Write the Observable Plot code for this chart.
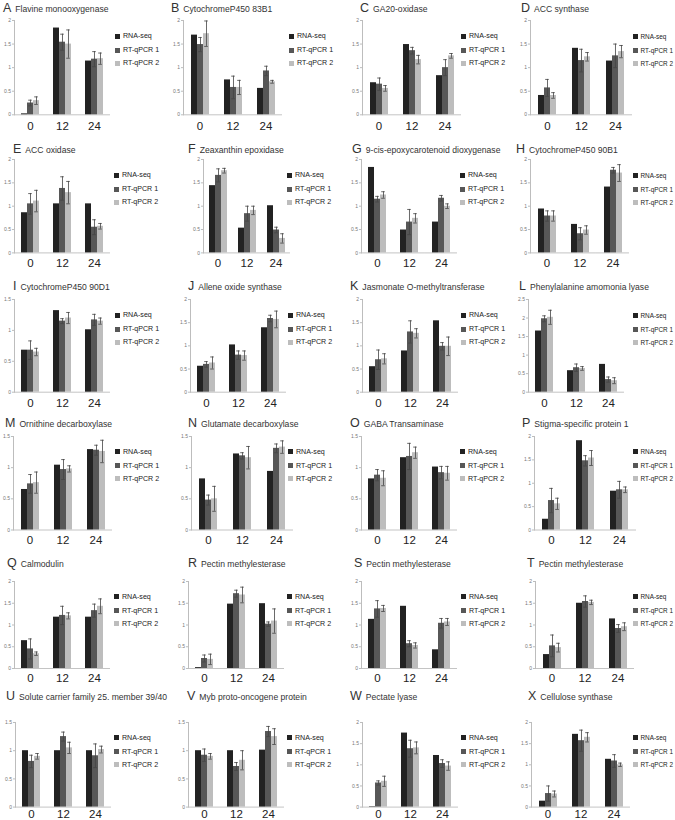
<!DOCTYPE html>
<html><head><meta charset="utf-8">
<script src="https://cdn.jsdelivr.net/npm/d3@7"></script>
<script src="https://cdn.jsdelivr.net/npm/@observablehq/plot@0.6"></script>
<style>
body{margin:0;background:#fff;}
#fig{position:relative;width:675px;height:820px;overflow:hidden;font-family:"Liberation Sans",Arial,sans-serif;background:#fff;}
.ttl{position:absolute;white-space:nowrap;color:#333;height:16px;line-height:16px;}
.ttl .lt{font-size:12.5px;margin-right:4px;}
.ttl .nm{font-size:8.6px;}
.leg{position:absolute;font-size:7.1px;color:#222;white-space:nowrap;display:flex;align-items:center;height:8px;}
.leg i{display:inline-block;width:5px;height:5px;margin-right:3px;}
.leg.narrow{font-size:6.4px;}
.leg.narrow i{margin-right:2.5px;}
</style></head>
<body><div id="fig"></div>
<script>
// ---- data ----
const panelLetters = ["A","B","C","D","E","F","G","H","I","J","K","L","M","N","O","P","Q","R","S","T","U","V","W","X"];
const panelTitles = [
  "Flavine monooxygenase","CytochromeP450 83B1","GA20-oxidase","ACC synthase",
  "ACC oxidase","Zeaxanthin epoxidase","9-cis-epoxycarotenoid dioxygenase","CytochromeP450 90B1",
  "CytochromeP450 90D1","Allene oxide synthase","Jasmonate O-methyltransferase","Phenylalanine amomonia lyase",
  "Ornithine decarboxylase","Glutamate decarboxylase","GABA Transaminase","Stigma-specific protein 1",
  "Calmodulin","Pectin methylesterase","Pectin methylesterase","Pectin methylesterase",
  "Solute carrier family 25. member 39/40","Myb proto-oncogene protein","Pectate lyase","Cellulose synthase"
];
const times = ["0","12","24"];
const seriesNames = ["RNA-seq","RT-qPCR 1","RT-qPCR 2"];
const yMax = [2,2,2,2, 2,2,2,2, 1.5,2,2,2.5, 1.5,1.5,1.5,2, 2,2,2,2, 1.5,1.5,2,2];

const rnaSeq = [
  [0.02,1.84,1.14],[1.69,0.74,0.56],[0.68,1.49,0.83],[0.41,1.41,1.14],
  [0.86,1.05,1.05],[1.44,0.53,1.01],[1.83,0.49,0.66],[0.94,0.61,1.41],
  [0.68,1.32,1.01],[0.56,1.02,1.39],[0.55,0.89,1.54],[1.65,0.58,0.75],
  [0.65,1.04,1.29],[0.82,1.22,0.94],[0.82,1.16,1.01],[0.23,1.91,0.83],
  [0.64,1.18,1.18],[0.02,1.48,1.49],[1.13,1.43,0.43],[0.32,1.50,1.14],
  [1.00,1.00,1.00],[1.00,1.00,1.01],[0.01,1.75,1.22],[0.14,1.72,1.13]
];
const qpcr1 = [
  [0.25,1.54,1.18],[1.49,0.58,0.93],[0.65,1.36,1.00],[0.57,1.15,1.25],
  [1.05,1.38,0.55],[1.66,0.84,0.49],[1.15,0.66,1.17],[0.79,0.41,1.77],
  [0.68,1.15,1.17],[0.60,0.80,1.59],[0.70,1.30,0.99],[1.98,0.66,0.34],
  [0.74,0.97,1.28],[0.48,1.19,1.31],[0.88,1.18,0.92],[0.63,1.48,0.86],
  [0.45,1.22,1.33],[0.23,1.72,1.02],[1.37,0.57,1.04],[0.52,1.54,0.92],
  [0.81,1.25,0.91],[0.92,0.72,1.34],[0.57,1.38,1.03],[0.32,1.57,1.09]
];
const qpcr1Err = [
  [0.06,0.17,0.16],[0.15,0.24,0.10],[0.13,0.07,0.17],[0.18,0.24,0.25],
  [0.22,0.25,0.16],[0.14,0.16,0.06],[0.06,0.27,0.06],[0.11,0.13,0.06],
  [0.15,0.04,0.09],[0.06,0.09,0.07],[0.21,0.24,0.08],[0.08,0.10,0.07],
  [0.15,0.16,0.08],[0.08,0.05,0.07],[0.09,0.21,0.10],[0.26,0.11,0.18],
  [0.23,0.21,0.15],[0.08,0.08,0.05],[0.19,0.07,0.11],[0.25,0.13,0.09],
  [0.11,0.08,0.21],[0.11,0.07,0.09],[0.05,0.20,0.09],[0.18,0.25,0.15]
];
const qpcr2 = [
  [0.30,1.50,1.19],[1.72,0.58,0.70],[0.56,1.17,1.25],[0.41,1.23,1.34],
  [1.11,1.29,0.57],[1.76,0.91,0.31],[1.24,0.74,1.00],[0.79,0.49,1.71],
  [0.65,1.20,1.15],[0.63,0.79,1.57],[0.72,1.27,0.99],[2.02,0.64,0.31],
  [0.76,0.98,1.26],[0.50,1.16,1.33],[0.83,1.24,0.91],[0.56,1.54,0.86],
  [0.34,1.21,1.43],[0.21,1.69,1.09],[1.38,0.53,1.07],[0.48,1.52,0.96],
  [0.90,1.05,1.02],[0.90,0.83,1.25],[0.61,1.40,0.97],[0.31,1.65,1.00]
];
const qpcr2Err = [
  [0.08,0.30,0.12],[0.27,0.15,0.03],[0.06,0.09,0.05],[0.06,0.09,0.13],
  [0.23,0.24,0.06],[0.05,0.09,0.10],[0.07,0.10,0.05],[0.11,0.09,0.18],
  [0.06,0.09,0.05],[0.13,0.10,0.18],[0.11,0.10,0.20],[0.19,0.05,0.08],
  [0.17,0.05,0.18],[0.20,0.18,0.10],[0.12,0.09,0.11],[0.12,0.16,0.06],
  [0.04,0.07,0.17],[0.12,0.18,0.28],[0.07,0.06,0.08],[0.10,0.05,0.09],
  [0.05,0.10,0.06],[0.05,0.17,0.14],[0.12,0.14,0.10],[0.07,0.11,0.04]
];

// ---- layout (styling only) ----
const seriesColors = ["#222222","#575757","#bdbdbd"];
const titleX = [3,171,360,521, 13,188,352,516, 13,188,350,519, 5,188,350,522, 7,188,354,527, 6,187,350,528];
const axisX  = [13,183,362,529, 14,202,360,529, 13,189,361,527, 13,190,360,534, 13,187,360,534, 14,187,361,530];
const plotW  = [98,99,99,104, 96,88,98,100, 98,98,98,98, 99,104,98,102, 98,98,98,101, 98,98,98,101];
const legendX= [115,289,461,633, 114,287,460,633, 115,288,461,633, 115,288,460,633, 114,287,461,633, 114,287,461,633];
const rowTitleY = [7,148,285,422,562,695];
const rowTop    = [20,159.3,299,435.5,580.7,721.7];
const rowBottom = [114.3,252.7,391.7,529,667.7,806.3];
const rowLabelPad = [7,6,6.3,5.8,5.4,3];
const barW = 6.7;

const fig = document.getElementById("fig");

panelLetters.forEach((letter, i) => {
  const r = Math.floor(i / 4);
  const col = i % 4;
  const top = rowTop[r], bottom = rowBottom[r];
  const W = plotW[i];
  const b = i === 5 ? 7 : barW;
  const step = W / 3;
  const pad = Math.max(0, (step / b - 3) / 2);

  const rows = [];
  times.forEach((t, j) => {
    rows.push({time: t, series: seriesNames[0], value: rnaSeq[i][j], err: null});
    rows.push({time: t, series: seriesNames[1], value: qpcr1[i][j], err: qpcr1Err[i][j]});
    rows.push({time: t, series: seriesNames[2], value: qpcr2[i][j], err: qpcr2Err[i][j]});
  });
  const errRows = rows.filter(d => d.err != null);
  const ticks = d3.range(0, yMax[i] + 1e-9, 0.5);

  const mL = 14, mR = 2, mT = 6, mB = 22;
  const svg = Plot.plot({
    width: mL + W + mR,
    height: mT + (bottom - top) + mB,
    marginLeft: mL, marginRight: mR, marginTop: mT, marginBottom: mB,
    style: {fontFamily: "'Liberation Sans', Arial, sans-serif", background: "none", overflow: "visible"},
    fx: {domain: times, padding: 0, label: null},
    x: {domain: seriesNames, paddingInner: 0, paddingOuter: pad, axis: null},
    y: {domain: [0, yMax[i]], label: null},
    color: {domain: seriesNames, range: seriesColors},
    marks: [
      Plot.ruleY([0], {stroke: "#c4c4c4"}),
      Plot.frame({anchor: "left", facetAnchor: "left", stroke: "#bdbdbd"}),
      Plot.axisY({ticks, tickSize: 2, tickPadding: 1.5, fontSize: 5, stroke: "#bdbdbd", fill: "#777", label: null, tickFormat: d => String(d)}),
      Plot.axisFx({anchor: "bottom", tickSize: 0, tickPadding: rowLabelPad[r], fontSize: 11.5, fill: "#222", label: null}),
      Plot.barY(rows, {fx: "time", x: "series", y: "value", fill: "series"}),
      Plot.ruleX(errRows, {fx: "time", x: "series", y1: d => d.value - d.err, y2: d => d.value + d.err, stroke: "#444", strokeWidth: 0.8}),
      Plot.tickY(errRows, {fx: "time", x: "series", y: d => d.value + d.err, stroke: "#444", strokeWidth: 0.8, insetLeft: 1.2, insetRight: 1.2}),
      Plot.tickY(errRows, {fx: "time", x: "series", y: d => d.value - d.err, stroke: "#444", strokeWidth: 0.8, insetLeft: 1.2, insetRight: 1.2})
    ]
  });
  svg.style.position = "absolute";
  svg.style.left = (axisX[i] - mL) + "px";
  svg.style.top = (top - mT) + "px";
  svg.style.maxWidth = "none";
  fig.appendChild(svg);

  // title
  const t = document.createElement("div");
  t.className = "ttl";
  t.style.left = titleX[i] + "px";
  t.style.top = (rowTitleY[r] - 8) + "px";
  const lt = document.createElement("span"); lt.className = "lt"; lt.textContent = letter;
  const nm = document.createElement("span"); nm.className = "nm"; nm.textContent = panelTitles[i];
  t.appendChild(lt); t.appendChild(nm);
  fig.appendChild(t);

  // legend
  const legOffsets = [16, 30, 43];
  seriesNames.forEach((s, k) => {
    const lg = document.createElement("div");
    lg.className = col === 3 ? "leg narrow" : "leg";
    lg.style.left = legendX[i] + "px";
    lg.style.top = (top + legOffsets[k] - 4) + "px";
    const sw = document.createElement("i"); sw.style.background = seriesColors[k];
    lg.appendChild(sw);
    lg.appendChild(document.createTextNode(s));
    fig.appendChild(lg);
  });
});
</script>
</body></html>
